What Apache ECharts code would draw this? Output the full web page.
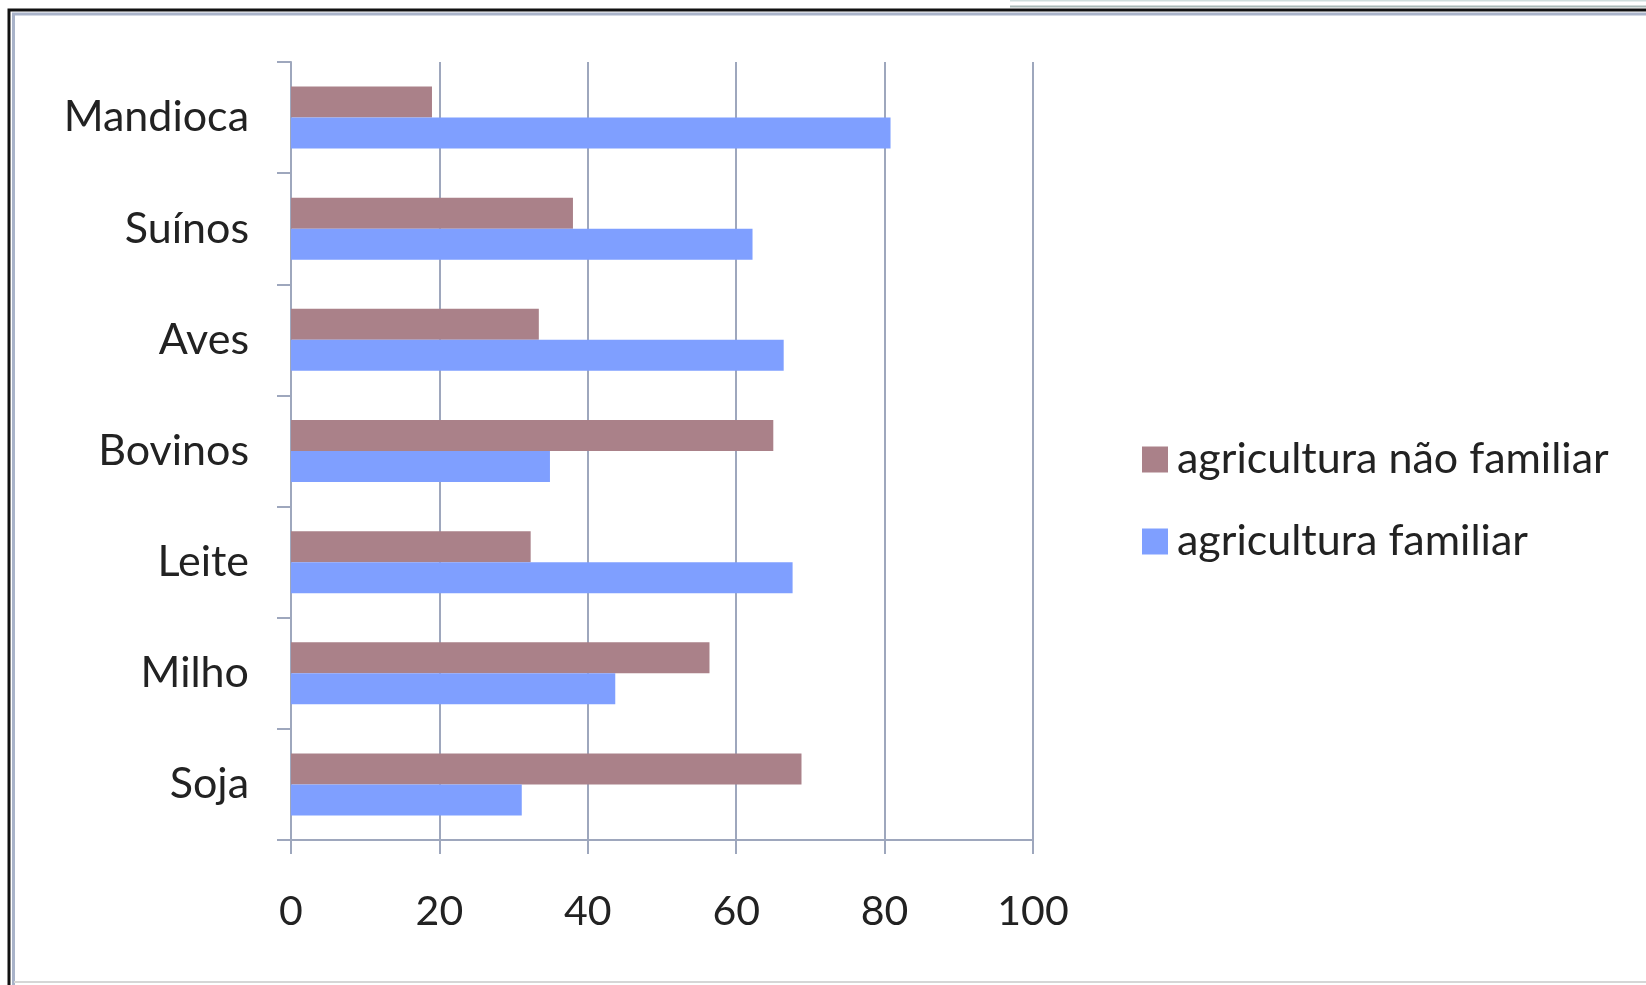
<!DOCTYPE html>
<html>
<head>
<meta charset="utf-8">
<script src="https://cdn.jsdelivr.net/npm/echarts@6/dist/echarts.min.js"></script>
<style>
html,body{margin:0;padding:0;background:#fff;}
#chart{width:1646px;height:985px;}
</style>
</head>
<body>
<div id="chart"></div>
<script>
const categories = ['Mandioca', 'Suínos', 'Aves', 'Bovinos', 'Leite', 'Milho', 'Soja'];
const naoFamiliar = [19, 38, 33.4, 65, 32.3, 56.4, 68.8];
const familiar = [80.8, 62.2, 66.4, 34.9, 67.6, 43.7, 31.1];
const seriesNames = ['agricultura não familiar', 'agricultura familiar'];
const xTicks = [0, 20, 40, 60, 80, 100];

const FONT = 'Lato';
const gridColor = '#9ea7bd';
const textColor = '#222222';
const chart = echarts.init(document.getElementById('chart'));
chart.setOption({
  backgroundColor: '#ffffff',
  animation: false,
  graphic: [
    { type: 'line', shape: { x1: 1010, y1: 0.5, x2: 1646, y2: 0.5 }, style: { stroke: '#cfdedd', lineWidth: 2 } },
    { type: 'line', shape: { x1: 1010, y1: 6.5, x2: 1646, y2: 6.5 }, style: { stroke: '#a9b9b8', lineWidth: 2 } },
    { type: 'polyline', shape: { points: [[9, 985], [9, 10], [1646, 10]] }, style: { stroke: '#111', lineWidth: 3, fill: null } },
    { type: 'polyline', shape: { points: [[13.5, 985], [13.5, 14], [1646, 14]] }, style: { stroke: '#a9b3c9', lineWidth: 3, fill: null } },
    { type: 'line', shape: { x1: 14, y1: 982, x2: 1646, y2: 982 }, style: { stroke: '#d6d6d6', lineWidth: 2 } }
  ],
  legend: {
    orient: 'vertical',
    left: 1137,
    top: 433,
    itemWidth: 26,
    itemHeight: 26,
    itemGap: 39,
    icon: 'rect',
    textStyle: { fontFamily: FONT, fontSize: 43, color: textColor, padding: [0, 0, 0, 4] },
    data: seriesNames
  },
  grid: { left: 291, right: 613, top: 62, bottom: 145, containLabel: false },
  xAxis: {
    type: 'value',
    min: 0, max: 100, interval: 20,
    axisLine: { show: true, lineStyle: { color: gridColor, width: 2 } },
    axisTick: { show: true, length: 14, lineStyle: { color: gridColor, width: 2 } },
    splitLine: { show: true, lineStyle: { color: gridColor, width: 2 } },
    axisLabel: {
      margin: 51, fontFamily: FONT, fontSize: 41, color: textColor,
      formatter: function (v) { return xTicks.indexOf(v) >= 0 ? String(v) : ''; }
    }
  },
  yAxis: {
    type: 'category',
    inverse: true,
    data: categories,
    axisLine: { show: true, lineStyle: { color: gridColor, width: 2 } },
    axisTick: { show: true, length: 14, lineStyle: { color: gridColor, width: 2 } },
    axisLabel: { margin: 42, fontFamily: FONT, fontSize: 43, color: textColor }
  },
  series: [
    { name: seriesNames[0], type: 'bar', data: naoFamiliar, barWidth: 31, barGap: '0%', itemStyle: { color: '#aa8189' } },
    { name: seriesNames[1], type: 'bar', data: familiar, barWidth: 31, barGap: '0%', itemStyle: { color: '#7f9fff' } }
  ]
});
</script>
</body>
</html>
